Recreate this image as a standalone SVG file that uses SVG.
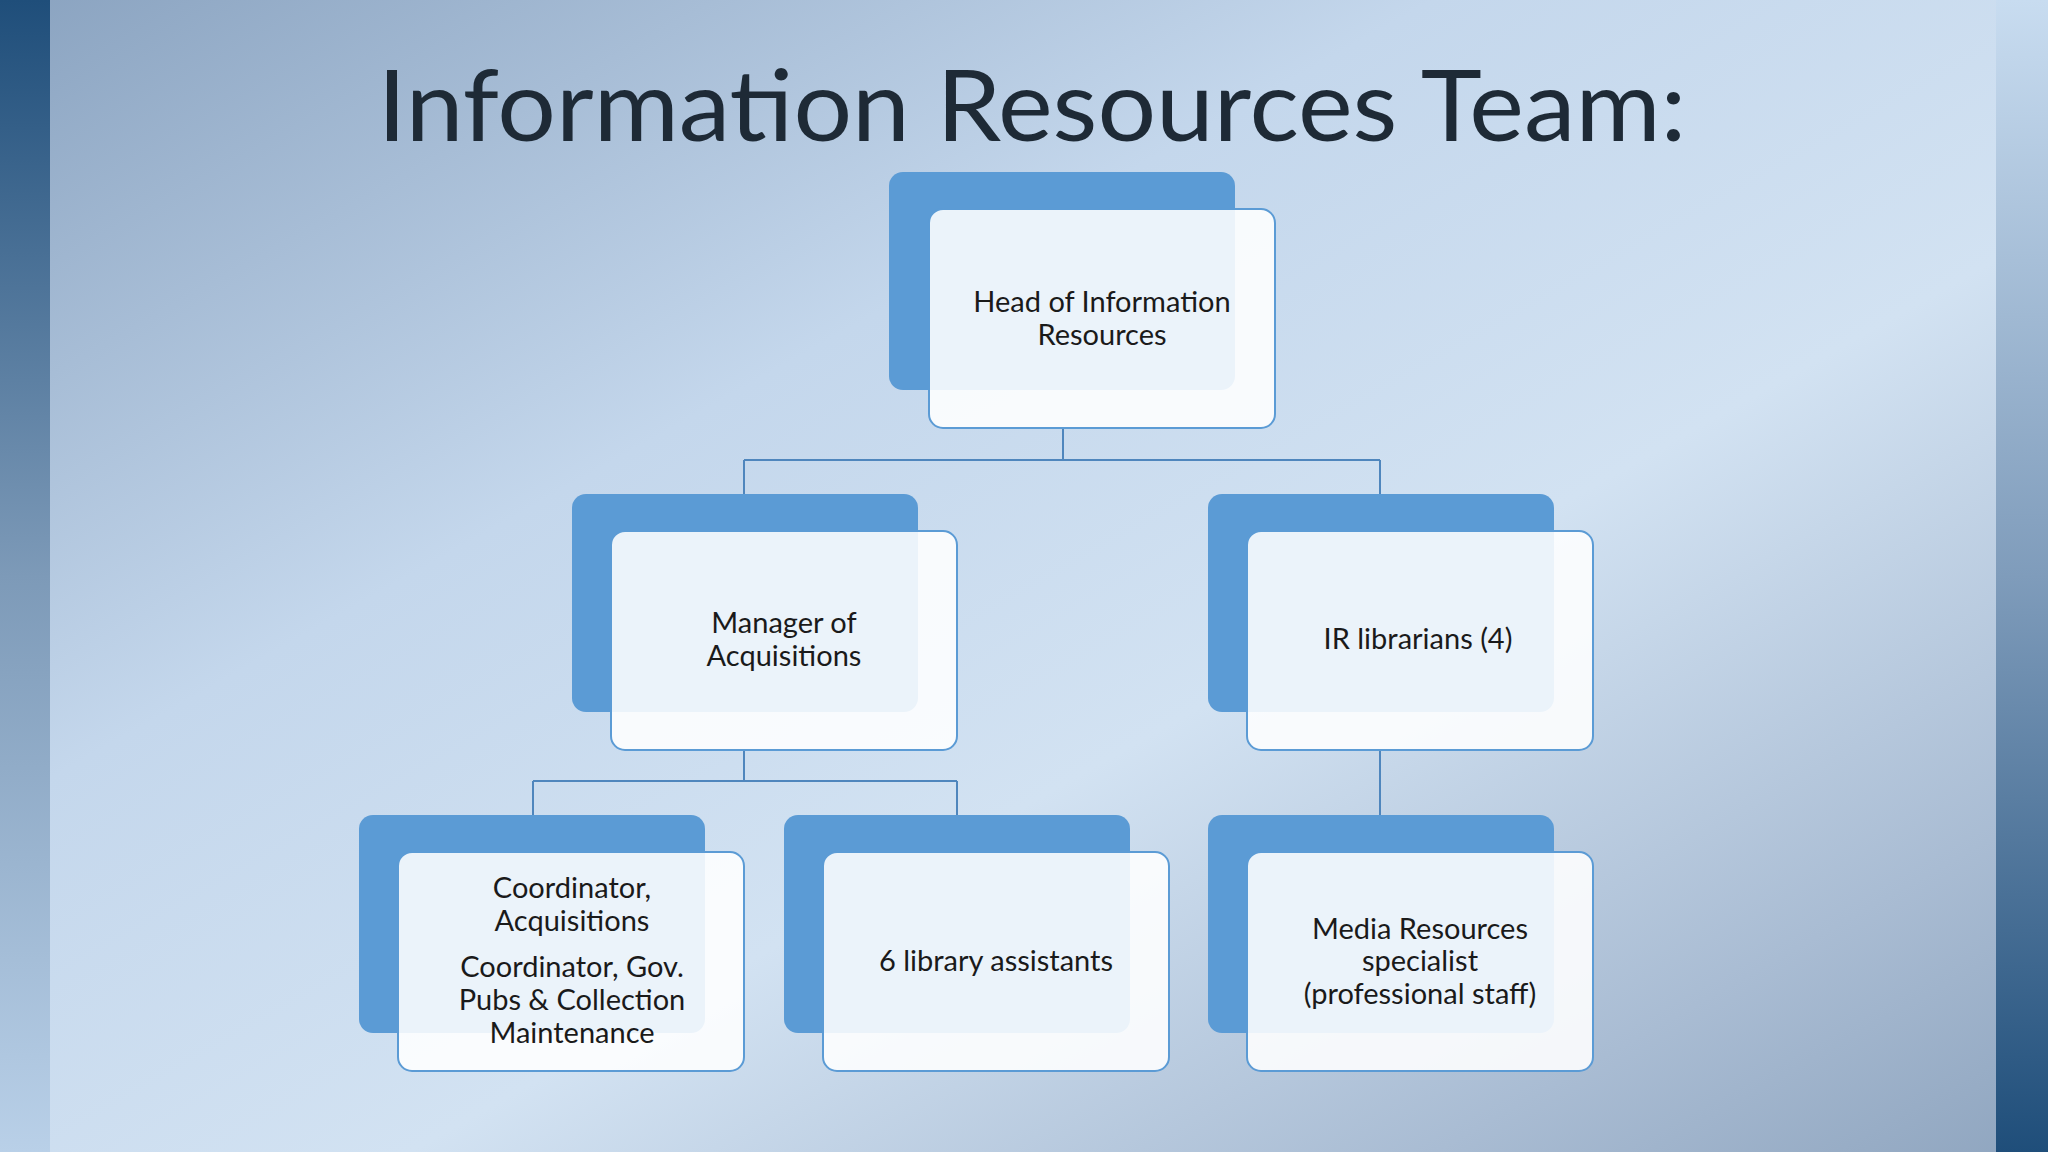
<svg xmlns="http://www.w3.org/2000/svg" width="2048" height="1152" viewBox="0 0 2048 1152">
<defs>
<linearGradient id="bg" x1="0" y1="0" x2="1" y2="1">
<stop offset="0" stop-color="#8aa3c0"/>
<stop offset="0.35" stop-color="#c4d7ec"/>
<stop offset="0.6" stop-color="#d2e2f2"/>
<stop offset="0.85" stop-color="#a9bcd3"/>
<stop offset="1" stop-color="#8fa5bf"/>
</linearGradient>
<linearGradient id="ls" x1="0" y1="0" x2="0" y2="1">
<stop offset="0" stop-color="#1f4e7a"/>
<stop offset="0.5" stop-color="#7d9ab8"/>
<stop offset="1" stop-color="#b9d0e8"/>
</linearGradient>
<linearGradient id="rs" x1="0" y1="0" x2="0" y2="1">
<stop offset="0" stop-color="#c8dcf0"/>
<stop offset="0.5" stop-color="#7f9cbb"/>
<stop offset="1" stop-color="#1f4e7a"/>
</linearGradient>
</defs>
<style>
.back{fill:#5b9bd5;}
.front{fill:#ffffff;fill-opacity:0.88;stroke:#5b9bd5;stroke-width:2;}
.t{font-family:"Lato","DejaVu Sans",sans-serif;font-size:29px;fill:#1a1a1a;text-anchor:middle;}
.c{stroke:#4f86bd;stroke-width:2;fill:none;}
</style>
<rect width="2048" height="1152" fill="url(#bg)"/>
<rect x="0" y="0" width="50" height="1152" fill="url(#ls)"/>
<rect x="1996" y="0" width="52" height="1152" fill="url(#rs)"/>
<text x="1032" y="141" font-family="Lato, 'DejaVu Sans', sans-serif" font-size="98" fill="#1e2a36" text-anchor="middle" textLength="1309" lengthAdjust="spacingAndGlyphs">Information Resources Team:</text>
<g id="connectors">
<path class="c" d="M1063 428V460M744 460H1380M744 460V494M1380 460V494"/>
<path class="c" d="M744 750V781M533 781H957M533 781V815M957 781V815"/>
<path class="c" d="M1380 750V815"/>
</g>
<g id="head"><rect class="back" x="889" y="172" width="346" height="218" rx="14"/><rect class="front" x="929" y="209" width="346" height="219" rx="14"/>
<text class="t" x="1102" y="312">Head of Information</text><text class="t" x="1102" y="345">Resources</text></g>
<g id="manager"><rect class="back" x="572" y="494" width="346" height="218" rx="14"/><rect class="front" x="611" y="531" width="346" height="219" rx="14"/>
<text class="t" x="784" y="633">Manager of</text><text class="t" x="784" y="666">Acquisitions</text></g>
<g id="ir"><rect class="back" x="1208" y="494" width="346" height="218" rx="14"/><rect class="front" x="1247" y="531" width="346" height="219" rx="14"/>
<text class="t" x="1418" y="649">IR librarians (4)</text></g>
<g id="coord"><rect class="back" x="359" y="815" width="346" height="218" rx="14"/><rect class="front" x="398" y="852" width="346" height="219" rx="14"/>
<text class="t" x="572" y="898">Coordinator,</text><text class="t" x="572" y="931">Acquisitions</text>
<text class="t" x="572" y="977">Coordinator, Gov.</text><text class="t" x="572" y="1010">Pubs &amp; Collection</text><text class="t" x="572" y="1043">Maintenance</text></g>
<g id="assistants"><rect class="back" x="784" y="815" width="346" height="218" rx="14"/><rect class="front" x="823" y="852" width="346" height="219" rx="14"/>
<text class="t" x="996" y="971">6 library assistants</text></g>
<g id="media"><rect class="back" x="1208" y="815" width="346" height="218" rx="14"/><rect class="front" x="1247" y="852" width="346" height="219" rx="14"/>
<text class="t" x="1420" y="939">Media Resources</text><text class="t" x="1420" y="971">specialist</text><text class="t" x="1420" y="1004">(professional staff)</text></g>
</svg>
